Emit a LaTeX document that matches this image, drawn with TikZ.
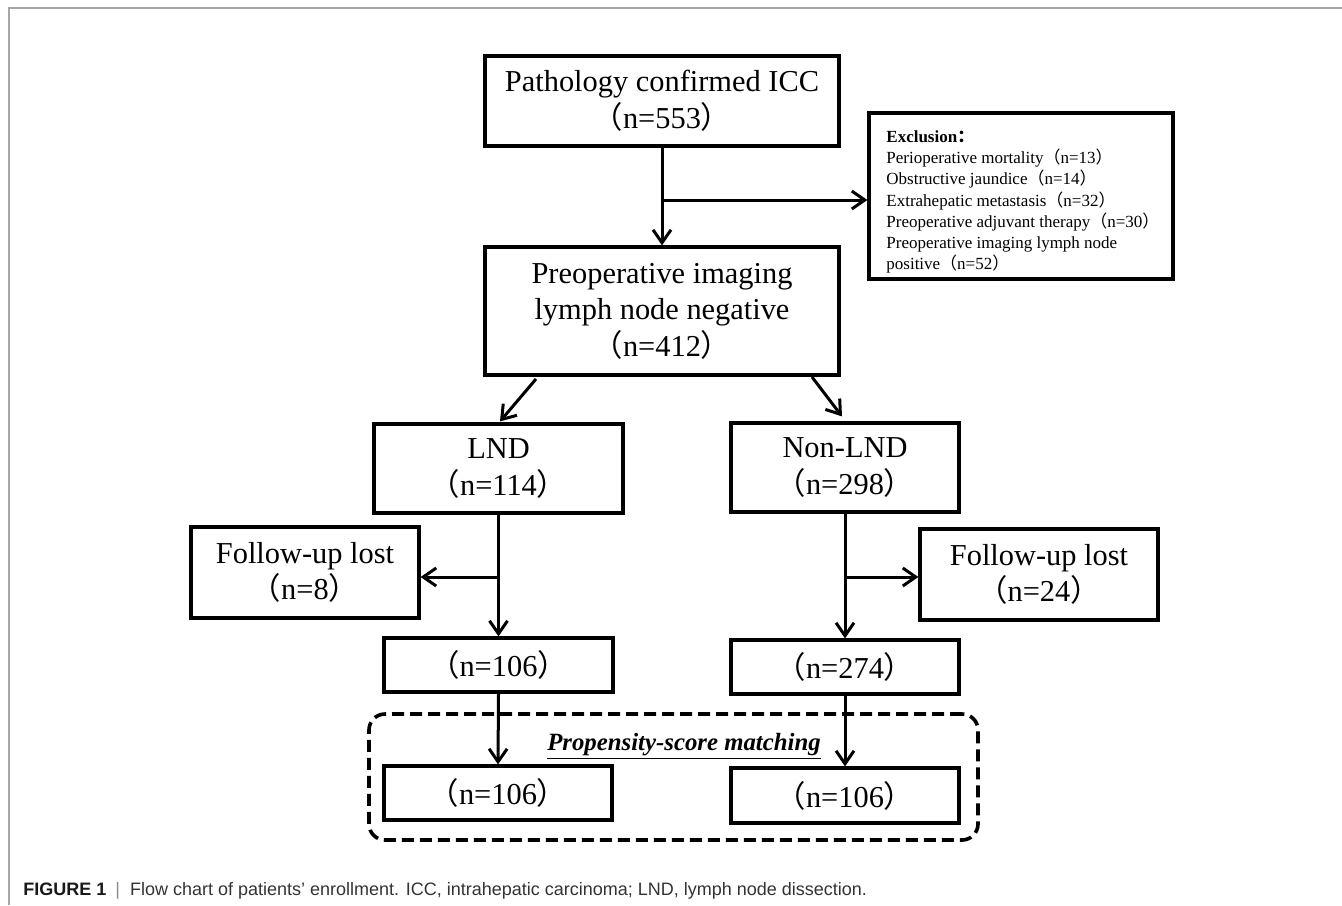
\documentclass[tikz,border=0pt]{standalone}
\usepackage{fontspec}
\setmainfont{Liberation Serif}
\setsansfont{Liberation Sans}
\newfontfamily\cjkfont{Noto Sans CJK SC}
\usetikzlibrary{arrows.meta,calc}
\newcommand\lpar{{\cjkfont （}}
\newcommand\rpar{{\cjkfont ）}}
\newcommand\fcolon{{\cjkfont\bfseries ：}}
\begin{document}
\begin{tikzpicture}[x=0.5pt,y=-0.5pt,
  box/.style={draw, line width=1.6pt, inner sep=0pt, align=center, font=\fontsize{15.2pt}{18.3pt}\selectfont},
  arr/.style={line width=1.5pt, -{Straight Barb[length=6.5pt,width=9pt]}},
  frameline/.style={draw=black!35, line width=0.9pt},
  psmbox/.style={draw, line width=1.8pt, dash pattern=on 6pt off 3pt, rounded corners=8pt, inner sep=0pt},
  smalltext/.style={align=left, inner sep=0pt, font=\fontsize{8.5pt}{10.65pt}\selectfont}]
\useasboundingbox (0,0) rectangle (1342,905);
\draw[frameline] (9,905) -- (9,8) -- (1342,8);

\node[psmbox, minimum width=304.5pt, minimum height=63pt] (psm) at (673.5,777) {};
\node[font=\fontsize{12.4pt}{14pt}\selectfont\bfseries\itshape, anchor=base, inner sep=0pt] (lbl) at (684,750) {\underline{Propensity-score matching}};

\node[box, minimum width=177pt, minimum height=45pt] (top) at (662,101) {Pathology confirmed ICC\\\lpar n=553\rpar};
\node[box, minimum width=152pt, minimum height=83pt] (excl) at (1021,196) {};
\node[smalltext, anchor=west] (excltxt) at (886,202) {\textbf{Exclusion}\fcolon\\Perioperative mortality\lpar n=13\rpar\\Obstructive jaundice\lpar n=14\rpar\\Extrahepatic metastasis\lpar n=32\rpar\\Preoperative adjuvant therapy\lpar n=30\rpar\\Preoperative imaging lymph node\\positive\lpar n=52\rpar};
\node[box, minimum width=177pt, minimum height=64pt] (neg) at (662,311) {Preoperative imaging\\lymph node negative\\\lpar n=412\rpar};
\node[box, minimum width=124.5pt, minimum height=44.5pt] (lnd) at (498.5,468.5) {LND\\\lpar n=114\rpar};
\node[box, minimum width=114pt, minimum height=44.5pt] (nonlnd) at (845,467.5) {Non-LND\\\lpar n=298\rpar};
\node[box, minimum width=114pt, minimum height=45.5pt] (lostL) at (305,572.5) {Follow-up lost\\\lpar n=8\rpar};
\node[box, minimum width=119pt, minimum height=45.5pt] (lostR) at (1039,574.5) {Follow-up lost\\\lpar n=24\rpar};
\node[box, minimum width=114.5pt, minimum height=27pt] (nL) at (498.5,665) {\lpar n=106\rpar};
\node[box, minimum width=114pt, minimum height=27pt] (nR) at (845,667) {\lpar n=274\rpar};
\node[box, minimum width=114pt, minimum height=27pt] (mL) at (498,793) {\lpar n=106\rpar};
\node[box, minimum width=114pt, minimum height=27.5pt] (mR) at (845,795.5) {\lpar n=106\rpar};

\draw[arr] (top.south) -- (neg.north);
\coordinate (b1) at (662,200);
\draw[arr] (b1) -- (b1 -| excl.west);
\coordinate (d1) at (536,379);
\draw[arr] (d1) -- ($(lnd.north)+(1.5,-1)$);
\coordinate (d2) at (812,377);
\draw[arr] (d2) -- ($(nonlnd.north)+(-3,-5)$);
\draw[arr] (lnd.south) -- (nL.north);
\coordinate (b2) at (498.5,577);
\draw[arr] (b2) -- (b2 -| lostL.east);
\draw[arr] (nonlnd.south) -- (nR.north);
\coordinate (b3) at (845,577);
\draw[arr] (b3) -- (b3 -| lostR.west);
\draw[arr] (nL.south) -- (mL.north);
\draw[arr] (nR.south) -- (mR.north);

\node[anchor=base west, inner sep=0pt, font=\sffamily\fontsize{9pt}{11pt}\selectfont, text=black!80] (cap) at (23,895) {\textbf{\color{black!90}FIGURE 1}\hspace{4.5pt}{\color{black!45}|}\hspace{5pt}Flow chart of patients’ enrollment. ICC, intrahepatic carcinoma; LND, lymph node dissection.};
\end{tikzpicture}
\end{document}
